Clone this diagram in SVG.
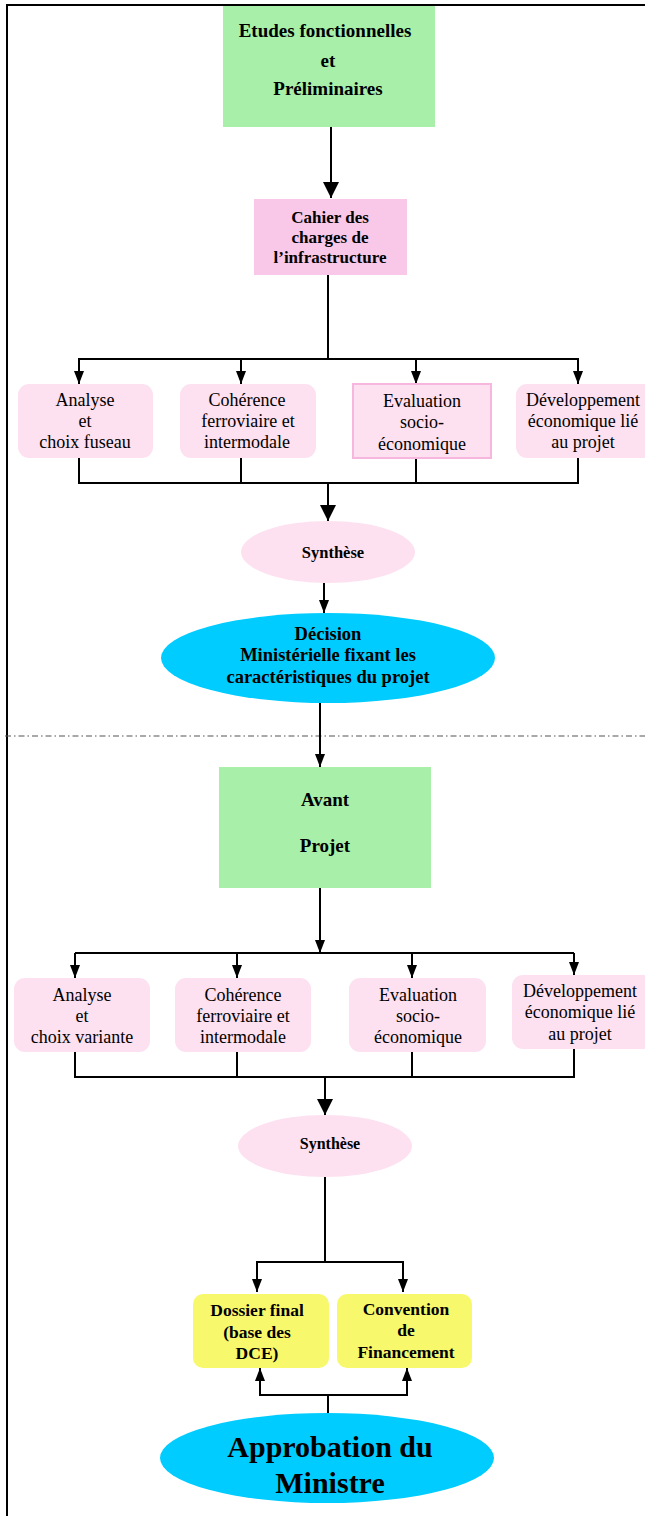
<svg xmlns="http://www.w3.org/2000/svg" width="645" height="1516" viewBox="0 0 645 1516">
<style>
.b{font-family:"Liberation Serif","Times New Roman",serif;font-weight:bold;fill:#000;text-anchor:middle}
.r{font-family:"Liberation Serif","Times New Roman",serif;fill:#000;text-anchor:middle;font-size:18px}
.c{fill:none;stroke:#000;stroke-width:2}
.green{fill:#a8f0aa}
.pinkbox{fill:#fde1f0}
.cyan{fill:#00ccff}
.yellow{fill:#f8f86c}
</style>
<defs>
<marker id="big" markerUnits="userSpaceOnUse" markerWidth="16" markerHeight="18" refX="16" refY="8" orient="auto">
<path d="M0,0 L16,8 L0,16 z" fill="#000"/>
</marker>
<marker id="sm" markerUnits="userSpaceOnUse" markerWidth="13" markerHeight="12" refX="13" refY="5" orient="auto">
<path d="M0,0 L13,5 L0,10 z" fill="#000"/>
</marker>
</defs>
<rect width="645" height="1516" fill="#fff"/>
<g id="frame">
<path d="M7,1516 V5 H645" fill="none" stroke="#000" stroke-width="2"/>
<line x1="5" y1="736" x2="645" y2="736" stroke="#555" stroke-width="1.2" stroke-dasharray="6 3 1.5 3"/>
</g>
<g id="connectors">
<line class="c" x1="331" y1="127" x2="331" y2="198" marker-end="url(#big)"/>
<path class="c" d="M328,275 V359"/>
<path class="c" d="M79,383 V359 H578 V383"/>
<line class="c" x1="79" y1="359" x2="79" y2="384" marker-end="url(#sm)"/>
<line class="c" x1="241" y1="359" x2="241" y2="384" marker-end="url(#sm)"/>
<line class="c" x1="416" y1="359" x2="416" y2="384" marker-end="url(#sm)"/>
<line class="c" x1="578" y1="359" x2="578" y2="384" marker-end="url(#sm)"/>
<path class="c" d="M79,458 V483 H578 V458 M241,458 V483 M416,458 V483"/>
<line class="c" x1="328" y1="483" x2="328" y2="521" marker-end="url(#big)"/>
<line class="c" x1="324" y1="583" x2="324" y2="613" marker-end="url(#sm)"/>
<line class="c" x1="320" y1="703" x2="320" y2="767" marker-end="url(#sm)"/>
<line class="c" x1="320" y1="888" x2="320" y2="953" marker-end="url(#sm)"/>
<path class="c" d="M75,953 H574"/>
<line class="c" x1="75" y1="953" x2="75" y2="978" marker-end="url(#sm)"/>
<line class="c" x1="237" y1="953" x2="237" y2="978" marker-end="url(#sm)"/>
<line class="c" x1="412" y1="953" x2="412" y2="978" marker-end="url(#sm)"/>
<line class="c" x1="574" y1="953" x2="574" y2="975" marker-end="url(#sm)"/>
<path class="c" d="M75,1052 V1077 H574 V1049 M237,1052 V1077 M412,1052 V1077"/>
<line class="c" x1="325" y1="1077" x2="325" y2="1115" marker-end="url(#big)"/>
<path class="c" d="M325,1177 V1262 M257,1262 H403"/>
<line class="c" x1="257" y1="1261" x2="257" y2="1292" marker-end="url(#sm)"/>
<line class="c" x1="403" y1="1261" x2="403" y2="1292" marker-end="url(#sm)"/>
<path class="c" d="M328,1414 V1395 M260,1395 H407"/>
<line class="c" x1="260" y1="1396" x2="260" y2="1368" marker-end="url(#sm)"/>
<line class="c" x1="407" y1="1396" x2="407" y2="1368" marker-end="url(#sm)"/>
</g>
<g id="etudes">
<rect class="green" x="223" y="6" width="212" height="121"/>
<text class="b" font-size="19" x="325" y="37">Etudes fonctionnelles</text>
<text class="b" font-size="19" x="328" y="67">et</text>
<text class="b" font-size="19" x="328" y="95">Préliminaires</text>
</g>
<g id="cahier">
<rect x="254" y="199" width="153" height="76" fill="#f9c8e8"/>
<text class="b" font-size="17" x="330" y="223">Cahier des</text>
<text class="b" font-size="17" x="330" y="243">charges de</text>
<text class="b" font-size="17" x="330" y="263">l’infrastructure</text>
</g>
<g id="analyse1">
<rect class="pinkbox" x="18" y="384" width="135" height="74" rx="11"/>
<text class="r" x="85" y="406">Analyse</text>
<text class="r" x="85" y="427">et</text>
<text class="r" x="85" y="448">choix fuseau</text>
</g>
<g id="coherence1">
<rect class="pinkbox" x="180" y="384" width="136" height="74" rx="11"/>
<text class="r" x="247" y="406">Cohérence</text>
<text class="r" x="248" y="427">ferroviaire et</text>
<text class="r" x="247" y="448">intermodale</text>
</g>
<g id="evaluation1">
<rect class="pinkbox" x="353" y="384" width="138" height="74" stroke="#f6b6dd" stroke-width="2"/>
<text class="r" x="422" y="407">Evaluation</text>
<text class="r" x="422" y="428">socio-</text>
<text class="r" x="422" y="450">économique</text>
</g>
<g id="developpement1">
<rect class="pinkbox" x="516" y="384" width="140" height="74" rx="11"/>
<text class="r" x="583" y="406">Développement</text>
<text class="r" x="583" y="427">économique lié</text>
<text class="r" x="583" y="448">au projet</text>
</g>
<g id="synthese1">
<ellipse class="pinkbox" cx="328" cy="552" rx="87" ry="31"/>
<text class="b" font-size="16.5" x="333" y="558">Synthèse</text>
</g>
<g id="decision">
<ellipse class="cyan" cx="328" cy="658" rx="167" ry="45"/>
<text class="b" font-size="18.5" x="328" y="640">Décision</text>
<text class="b" font-size="18.5" x="328" y="661">Ministérielle fixant les</text>
<text class="b" font-size="18.5" x="328" y="683">caractéristiques du projet</text>
</g>
<g id="avantprojet">
<rect class="green" x="219" y="767" width="212" height="121"/>
<text class="b" font-size="19" x="325" y="806">Avant</text>
<text class="b" font-size="19" x="325" y="852">Projet</text>
</g>
<g id="analyse2">
<rect class="pinkbox" x="14" y="978" width="136" height="74" rx="11"/>
<text class="r" x="82" y="1001">Analyse</text>
<text class="r" x="82" y="1022">et</text>
<text class="r" x="82" y="1043">choix variante</text>
</g>
<g id="coherence2">
<rect class="pinkbox" x="175" y="978" width="136" height="74" rx="11"/>
<text class="r" x="243" y="1001">Cohérence</text>
<text class="r" x="243" y="1022">ferroviaire et</text>
<text class="r" x="243" y="1043">intermodale</text>
</g>
<g id="evaluation2">
<rect class="pinkbox" x="349" y="978" width="137" height="74" rx="11"/>
<text class="r" x="418" y="1001">Evaluation</text>
<text class="r" x="418" y="1022">socio-</text>
<text class="r" x="418" y="1043">économique</text>
</g>
<g id="developpement2">
<rect class="pinkbox" x="512" y="975" width="145" height="74" rx="11"/>
<text class="r" x="580" y="997">Développement</text>
<text class="r" x="580" y="1018">économique lié</text>
<text class="r" x="580" y="1040">au projet</text>
</g>
<g id="synthese2">
<ellipse class="pinkbox" cx="325" cy="1146" rx="87" ry="31"/>
<text class="b" font-size="16" x="330" y="1149">Synthèse</text>
</g>
<g id="dossier">
<rect class="yellow" x="193" y="1294" width="136" height="74" rx="10"/>
<text class="b" font-size="17.5" x="257" y="1316">Dossier final</text>
<text class="b" font-size="17.5" x="257" y="1338">(base des</text>
<text class="b" font-size="17.5" x="257" y="1359">DCE)</text>
</g>
<g id="convention">
<rect class="yellow" x="337" y="1294" width="135" height="74" rx="10"/>
<text class="b" font-size="17.5" x="406" y="1315">Convention</text>
<text class="b" font-size="17.5" x="406" y="1336">de</text>
<text class="b" font-size="17.5" x="406" y="1358">Financement</text>
</g>
<g id="approbation">
<ellipse class="cyan" cx="327" cy="1458" rx="167" ry="45"/>
<text class="b" font-size="30" x="330" y="1457">Approbation du</text>
<text class="b" font-size="30" x="330" y="1493">Ministre</text>
</g>
</svg>
